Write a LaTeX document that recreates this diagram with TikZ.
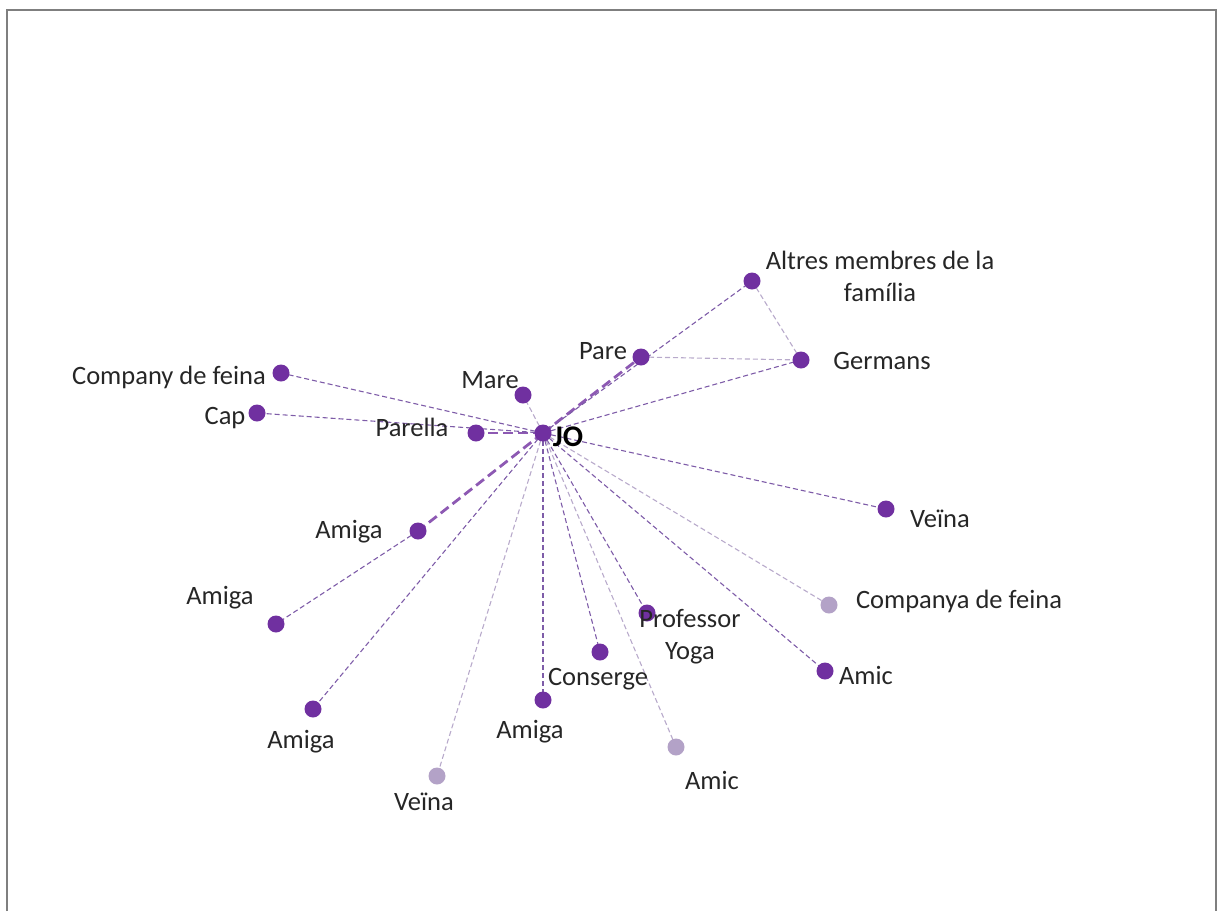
\documentclass[tikz,border=0pt]{standalone}
\usepackage{fontspec}
\setmainfont{Carlito}
\usetikzlibrary{backgrounds}
\definecolor{pdark}{HTML}{7030A0}
\definecolor{plight}{HTML}{B3A2C7}
\definecolor{edgemid}{HTML}{7E5CA8}
\definecolor{edgelight}{HTML}{B8AACB}
\definecolor{framegray}{HTML}{7F7F7F}
\definecolor{txt}{HTML}{262626}
\begin{document}
\begin{tikzpicture}[x=1pt,y=-1pt,
  dot/.style={circle,fill=pdark,inner sep=0pt,minimum size=17pt},
  ldot/.style={circle,fill=plight,inner sep=0pt,minimum size=17pt},
  lbl/.style={font=\fontsize{26.5}{32}\selectfont,text=txt,inner sep=0pt,align=center},
  thinedge/.style={draw=edgemid,line width=1.1pt,dash pattern=on 5pt off 3pt},
  lightedge/.style={draw=edgelight,line width=1.1pt,dash pattern=on 5pt off 3pt},
  thickedge/.style={draw=pdark!80!white,line width=2.8pt,dash pattern=on 10pt off 5pt}]
\useasboundingbox (0,0) rectangle (1219,911);
\draw[framegray,line width=2pt] (7,911) -- (7,10) -- (1216,10) -- (1216,911);

% nodes
\node[dot] (jo) at (543,433) {};
\node[dot] (mare) at (523,395) {};
\node[dot] (pare) at (641,357) {};
\node[dot] (parella) at (476,433) {};
\node[dot] (company) at (281,373) {};
\node[dot] (cap) at (257,413) {};
\node[dot] (altres) at (752,281) {};
\node[dot] (germans) at (801,360) {};
\node[dot] (veinaR) at (886,509) {};
\node[ldot] (companya) at (829,605) {};
\node[dot] (amicR) at (825,671) {};
\node[dot] (yoga) at (647,613) {};
\node[dot] (conserge) at (600,652) {};
\node[dot] (amigaM) at (543,700) {};
\node[ldot] (amicB) at (676,747) {};
\node[ldot] (veinaB) at (437,776) {};
\node[dot] (amigaLL) at (313,709) {};
\node[dot] (amigaL) at (276,624) {};
\node[dot] (amigaUL) at (418,531) {};

% labels
\node[lbl,font=\fontsize{30}{34}\selectfont\bfseries,text=black] (tjo) at (568,437) {JO};
\node[lbl] (tmare) at (490,380) {Mare};
\node[lbl] (tpare) at (603,351) {Pare};
\node[lbl] (tparella) at (412,427) {Parella};
\node[lbl] (tcompany) at (169,377) {Company de feina};
\node[lbl] (tcap) at (225,418) {Cap};
\node[lbl] (taltres) at (880,276) {Altres membres de la\\família};
\node[lbl] (tgermans) at (882,361) {Germans};
\node[lbl] (tveinaR) at (940,519) {Veïna};
\node[lbl] (tcompanya) at (959,601) {Companya de feina};
\node[lbl] (tamicR) at (866,675) {Amic};
\node[lbl] (tyoga) at (690,637) {Professor\\Yoga};
\node[lbl] (tconserge) at (598,679) {Conserge};
\node[lbl] (tamigaM) at (530,732) {Amiga};
\node[lbl] (tamicB) at (712,780) {Amic};
\node[lbl] (tveinaB) at (424,802) {Veïna};
\node[lbl] (tamigaLL) at (301,742) {Amiga};
\node[lbl] (tamigaL) at (220,598) {Amiga};
\node[lbl] (tamigaUL) at (349,532) {Amiga};

% edges
\begin{pgfonlayer}{background}
\draw[lightedge] (jo.center) -- (mare.center);
\draw[thickedge] (jo.center) -- (pare.center);
\draw[thickedge] (jo.center) -- (parella.center);
\draw[thickedge] (jo.center) -- (amigaUL.center);
\draw[thinedge] (jo.center) -- (altres.center);
\draw[thinedge] (jo.center) -- (germans.center);
\draw[lightedge] (pare.center) -- (germans.center);
\draw[lightedge] (altres.center) -- (germans.center);
\draw[thinedge] (jo.center) -- (company.center);
\draw[thinedge] (jo.center) -- (cap.center);
\draw[thinedge] (jo.center) -- (veinaR.center);
\draw[lightedge] (jo.center) -- (companya.center);
\draw[thinedge] (jo.center) -- (amicR.center);
\draw[thinedge] (jo.center) -- (yoga.center);
\draw[thinedge] (jo.center) -- (conserge.center);
\draw[thinedge] (jo.center) -- (amigaM.center);
\draw[lightedge] (jo.center) -- (amicB.center);
\draw[lightedge] (jo.center) -- (veinaB.center);
\draw[thinedge] (jo.center) -- (amigaLL.center);
\draw[thinedge] (amigaUL.center) -- (amigaL.center);
\end{pgfonlayer}
\end{tikzpicture}
\end{document}
